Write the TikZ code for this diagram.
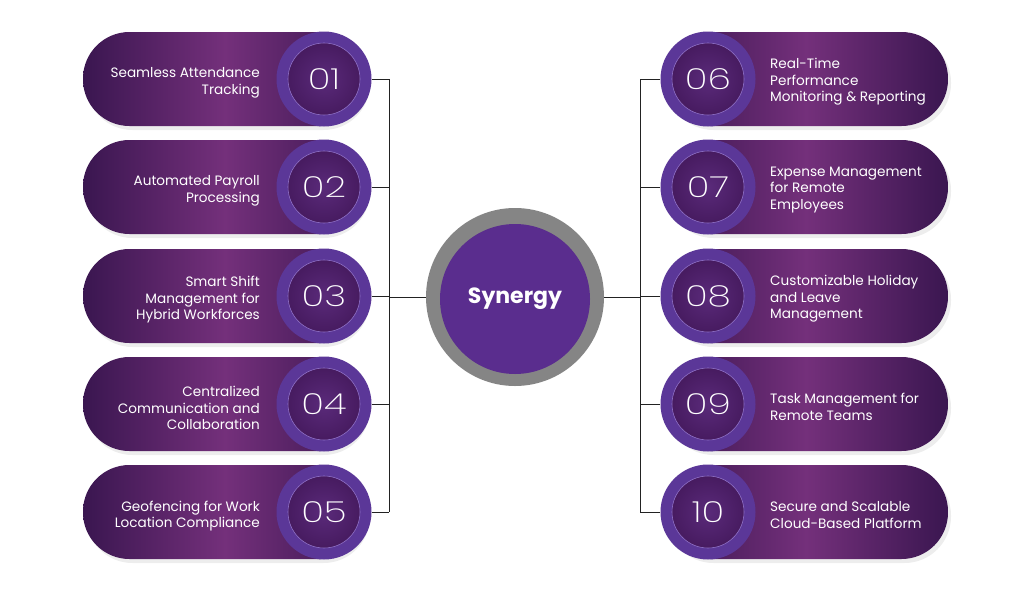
\documentclass[tikz,border=0pt]{standalone}
\usepackage{fontspec}
\setmainfont{Poppins}
\IfFontExistsTF{Poppins ExtraLight}{\newfontfamily\numfont[FakeStretch=1.3]{Poppins ExtraLight}}{%
  \IfFontExistsTF{Poppins Light}{\newfontfamily\numfont[FakeStretch=1.3]{Poppins Light}}{\newfontfamily\numfont[FakeStretch=1.3]{Poppins}}}
\definecolor{pdark}{HTML}{3A1650}
\definecolor{pmid}{HTML}{74307B}
\definecolor{ringc}{HTML}{5B3798}
\definecolor{innerc}{HTML}{471B60}
\definecolor{innerl}{HTML}{5A2A7A}
\definecolor{ringedge}{HTML}{8E70C6}
\definecolor{cgray}{HTML}{858585}
\definecolor{cpurple}{HTML}{5A2D8E}
\definecolor{linec}{HTML}{222222}
\tikzset{
  pill/.style={rectangle, rounded corners=46.5pt, minimum width=284pt, minimum height=94pt,
    left color=pdark, right color=pdark, middle color=pmid, inner sep=0pt},
  pillshadow/.style={rectangle, rounded corners=46.5pt, minimum width=284pt, minimum height=94pt,
    fill=black, opacity=0.07, inner sep=0pt},
  ring/.style={circle, minimum size=95pt, fill=ringc, inner sep=0pt},
  numc/.style={circle, minimum size=72pt, inner color=innerl, outer color=innerc,
    draw=ringedge, line width=0.6pt, text=white, inner sep=0pt,
    font=\numfont\fontsize{29}{31}\selectfont},
  ltext/.style={text=white, align=right, anchor=east, font=\fontsize{13.6}{16.5}\selectfont, inner sep=0pt},
  rtext/.style={text=white, align=left, anchor=west, font=\fontsize{13.6}{16.5}\selectfont, inner sep=0pt},
  conn/.style={draw=linec, line width=1pt},
}
\begin{document}
\begin{tikzpicture}[x=1pt,y=-1pt]
\fill[white] (0,0) rectangle (1024,597);
\useasboundingbox (0,0) rectangle (1024,597);
% left column
\foreach \i/\y/\n/\txt in {
  1/79/01/{Seamless Attendance\\Tracking},
  2/187/02/{Automated Payroll\\Processing},
  3/296/03/{Smart Shift\\Management for\\Hybrid Workforces},
  4/404/04/{Centralized\\Communication and\\Collaboration},
  5/512/05/{Geofencing for Work\\Location Compliance}}{
  \node[pillshadow] (s\i) at (228,\y+4) {};
  \node[pill] (p\i) at (225,\y) {};
  \node[ring] (r\i) at (324,\y) {};
  \node[numc] (c\i) at (r\i) {\n};
  \node[ltext] (t\i) at (260,\y+4) {\txt};
  \coordinate (lj\i) at (389,\y);
  \draw[conn] (r\i.east) -- (lj\i);
}
% right column
\foreach \i/\y/\n/\txt in {
  6/79/06/{Real-Time\\Performance\\Monitoring \& Reporting},
  7/187/07/{Expense Management\\for Remote\\Employees},
  8/296/08/{Customizable Holiday\\and Leave\\Management},
  9/404/09/{Task Management for\\Remote Teams},
  10/512/10/{Secure and Scalable\\Cloud-Based Platform}}{
  \node[pillshadow] (s\i) at (809,\y+4) {};
  \node[pill] (p\i) at (806,\y) {};
  \node[ring] (r\i) at (708,\y) {};
  \node[numc] (c\i) at (r\i) {\n};
  \node[rtext] (t\i) at (770,\y+3) {\txt};
  \coordinate (rj\i) at (640,\y);
  \draw[conn] (r\i.west) -- (rj\i);
}
% hub
\node[circle, minimum size=178pt, fill=cgray, inner sep=0pt] (hub) at (515,297) {};
\node[circle, minimum size=150pt, fill=cpurple, text=white, inner sep=0pt,
  font=\bfseries\fontsize{22}{26}\selectfont] (core) at ([yshift=-2pt]hub.center) {Synergy};
\coordinate (lhub) at (389,297);
\coordinate (rhub) at (640,297);
\draw[conn] (lj1) -- (lj5);
\draw[conn] (rj6) -- (rj10);
\draw[conn] (lhub) -- (hub.west);
\draw[conn] (rhub) -- (hub.east);
\end{tikzpicture}
\end{document}
